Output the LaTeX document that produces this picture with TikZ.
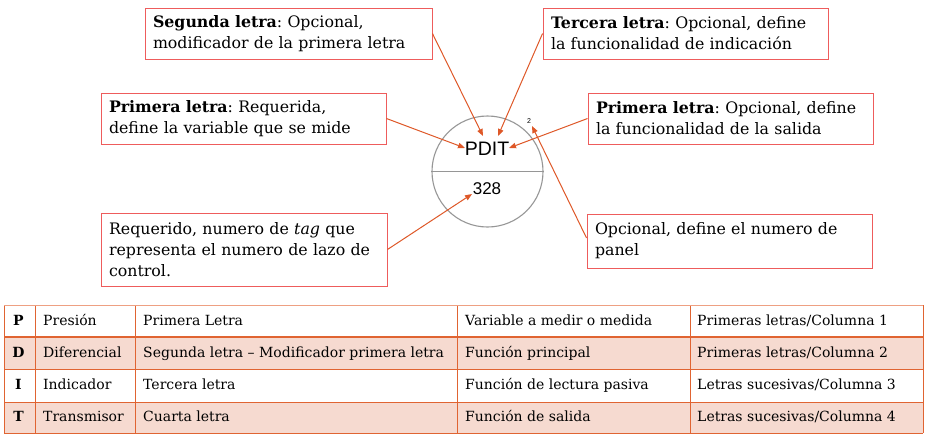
\documentclass[tikz,border=0pt]{standalone}
\usepackage{fontspec}
\setmainfont{DejaVu Serif}
\newfontfamily\helv{Liberation Sans}
\usetikzlibrary{arrows.meta}
\frenchspacing
\definecolor{boxred}{RGB}{238,92,92}
\definecolor{arrowc}{RGB}{222,88,40}
\definecolor{tline}{RGB}{224,100,50}
\definecolor{tlight}{RGB}{238,160,130}
\definecolor{pinkfill}{RGB}{246,218,208}
\definecolor{circgray}{RGB}{150,150,150}
\tikzset{
  note/.style={draw=boxred, line width=0.9pt, fill=white, inner xsep=8pt, inner ysep=3pt,
    align=left, font=\fontsize{15.8}{21}\selectfont, text=black},
  pointer/.style={draw=arrowc, line width=1pt, -{Triangle[length=7pt,width=5.5pt]}},
  cell/.style={anchor=base west, font=\fontsize{14}{14}\selectfont, inner sep=0pt},
  lettercell/.style={anchor=base, font=\fontsize{14}{14}\selectfont\bfseries, inner sep=0pt},
  tgrid/.style={draw=tline, line width=1pt}
}
\begin{document}
\begin{tikzpicture}[x=1pt,y=-1pt]
\useasboundingbox (0,0) rectangle (926,437);
% instrument bubble
\node[draw=circgray, line width=1.1pt, circle, minimum size=111pt, inner sep=0pt] (inst) at (487.5,171.5) {};
\draw[draw=circgray, line width=1.1pt] (inst.west) -- (inst.east);
\node[font=\helv\fontsize{19.5}{19.5}\selectfont, inner sep=0pt] (pdit) at (487,149) {PDIT};
\node[font=\helv\fontsize{17}{17}\selectfont, inner sep=0pt] (num) at (487,189) {328};
\node[font=\helv\fontsize{7}{7}\selectfont, inner sep=0pt] (sup) at (529,121) {2};
\coordinate (tseg) at (483,136);
\coordinate (tter) at (498,136);
\coordinate (tpr) at (465,148);
\coordinate (tpo) at (509,148);
\coordinate (treq) at (472,194);
\coordinate (tpan) at (532,126);
% notes
\node[note, minimum width=287pt, minimum height=51pt, text width=271pt] (seg) at (288.5,33.5)
  {\textbf{Segunda letra}: Opcional,\\modificador de la primera letra};
\node[note, minimum width=285pt, minimum height=51pt, text width=269pt] (ter) at (685.5,33.5)
  {\textbf{Tercera letra}: Opcional, define\\la funcionalidad de indicación};
\node[note, minimum width=285pt, minimum height=51pt, text width=269pt] (pr) at (243.5,118.5)
  {\textbf{Primera letra}: Requerida,\\define la variable que se mide};
\node[note, minimum width=285pt, minimum height=51pt, text width=269pt] (po) at (730.5,118.5)
  {\textbf{Primera letra}: Opcional, define\\la funcionalidad de la salida};
\node[note, minimum width=286pt, minimum height=73pt, text width=270pt] (req) at (244,249.5)
  {Requerido, numero de \textit{tag} que\\representa el numero de lazo de\\control.};
\node[note, minimum width=285pt, minimum height=54pt, text width=269pt] (pan) at (729.5,241)
  {Opcional, define el numero de\\panel};
% pointers
\draw[pointer] (seg.east) -- (tseg);
\draw[pointer] (ter.west) -- (tter);
\draw[pointer] (pr.east) -- (tpr);
\draw[pointer] (po.west) -- (tpo);
\draw[pointer] (req.east) -- (treq);
\draw[pointer] ([yshift=3pt]pan.west) -- (tpan);
% table
\fill[pinkfill] (4,337) rectangle (923,369);
\fill[pinkfill] (4,402) rectangle (923,433);
\draw[tgrid] (4,369) -- (923,369);
\draw[tgrid] (4,402) -- (923,402);
\draw[tgrid] (4,433) -- (923,433);
\draw[tgrid] (4,305) -- (4,433);
\draw[tgrid] (35,305) -- (35,433);
\draw[tgrid] (135,305) -- (135,433);
\draw[tgrid] (457,305) -- (457,433);
\draw[tgrid] (690,305) -- (690,433);
\draw[tgrid] (923,305) -- (923,433);
\draw[draw=tlight, line width=1pt] (4,305) -- (923,305);
\draw[draw=tline, line width=2pt] (4,337) -- (923,337);
% row 1
\node[lettercell] (l1) at (18.5,325) {P};
\node[cell] (a1) at (43,325) {Presión};
\node[cell] (b1) at (143,325) {Primera Letra};
\node[cell] (c1) at (465,325) {Variable a medir o medida};
\node[cell] (d1) at (697,325) {Primeras letras/Columna 1};
% row 2
\node[lettercell] (l2) at (18.5,357) {D};
\node[cell] (a2) at (43,357) {Diferencial};
\node[cell] (b2) at (143,357) {Segunda letra – Modificador primera letra};
\node[cell] (c2) at (465,357) {Función principal};
\node[cell] (d2) at (697,357) {Primeras letras/Columna 2};
% row 3
\node[lettercell] (l3) at (18.5,389) {I};
\node[cell] (a3) at (43,389) {Indicador};
\node[cell] (b3) at (143,389) {Tercera letra};
\node[cell] (c3) at (465,389) {Función de lectura pasiva};
\node[cell] (d3) at (697,389) {Letras sucesivas/Columna 3};
% row 4
\node[lettercell] (l4) at (18.5,421) {T};
\node[cell] (a4) at (43,421) {Transmisor};
\node[cell] (b4) at (143,421) {Cuarta letra};
\node[cell] (c4) at (465,421) {Función de salida};
\node[cell] (d4) at (697,421) {Letras sucesivas/Columna 4};
\end{tikzpicture}
\end{document}
